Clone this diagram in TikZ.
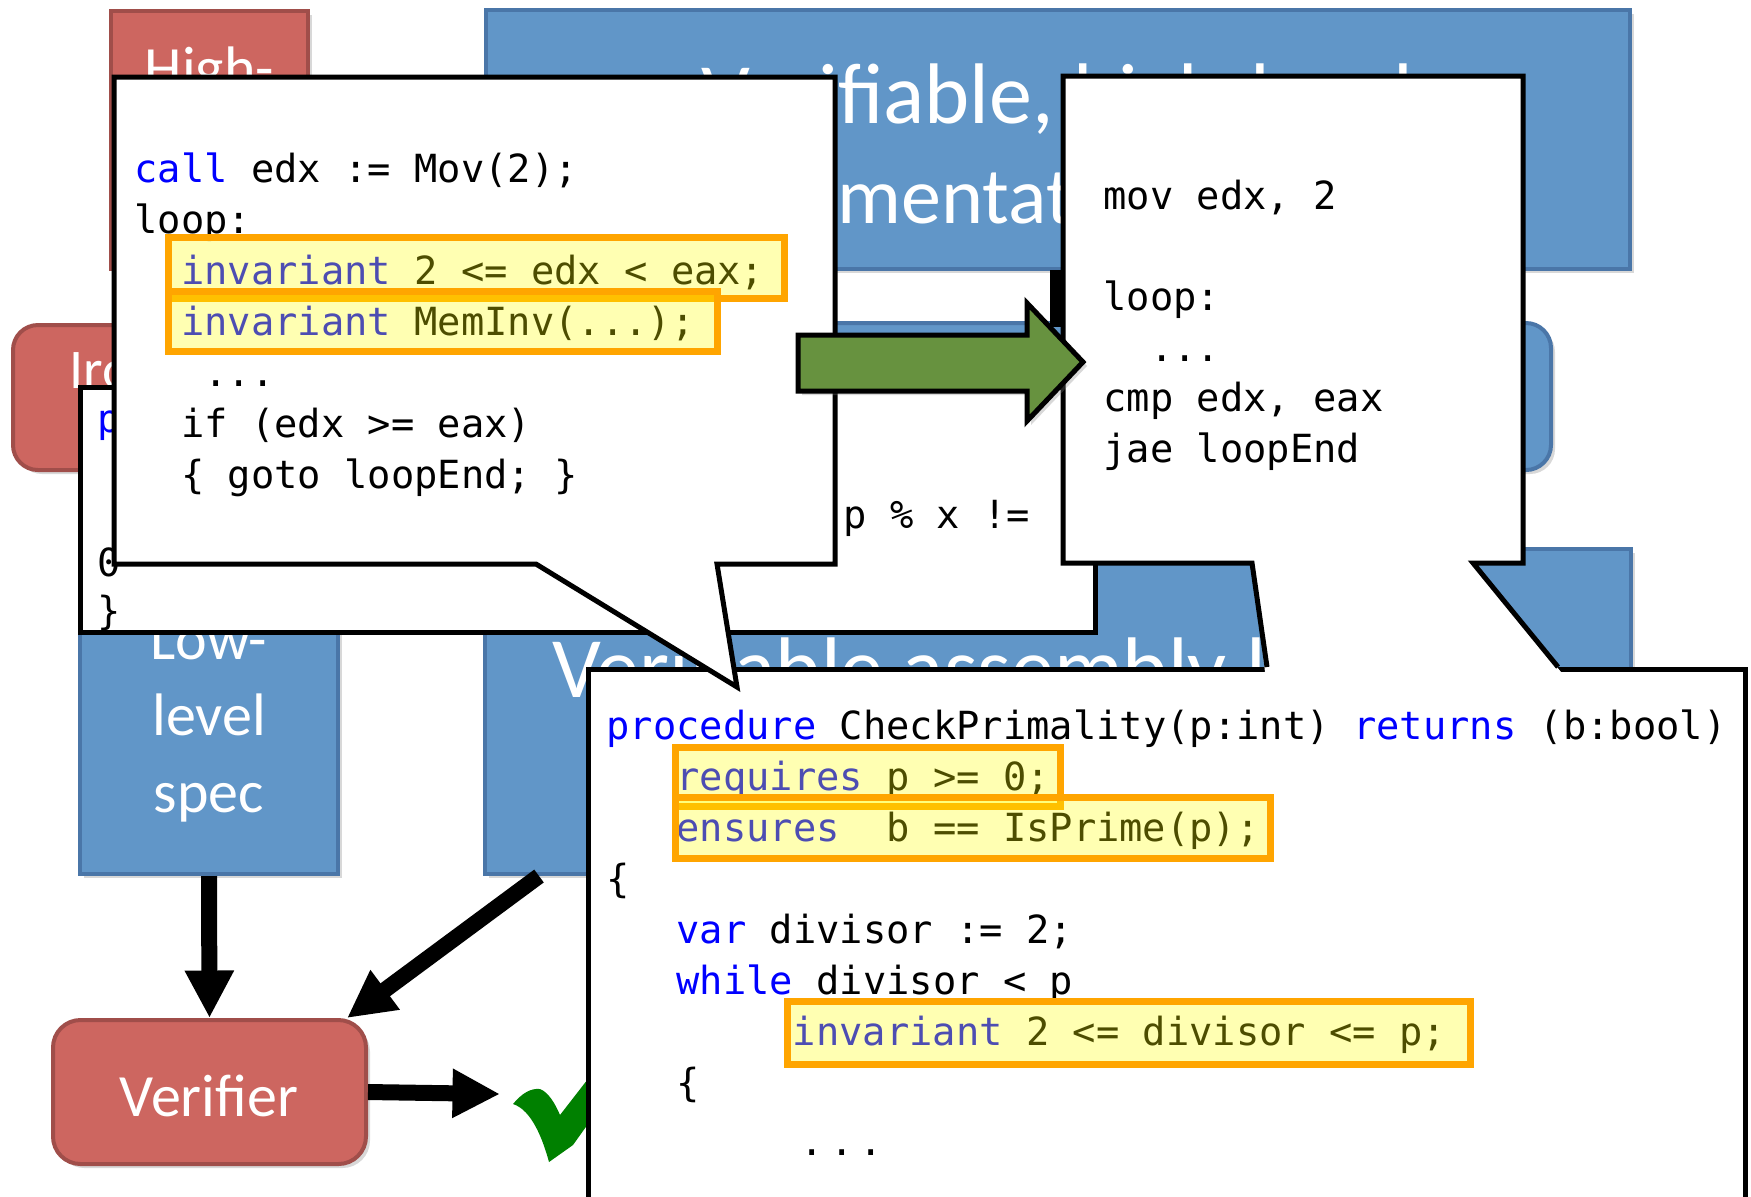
\documentclass[tikz,border=0pt]{standalone}
\usepackage{fontspec}
\setmainfont{Carlito}
\newfontfamily\codefont{DejaVu Sans Mono}
\usetikzlibrary{arrows.meta,shadows}

\definecolor{boxblue}{HTML}{6196C8}
\definecolor{boxblueedge}{HTML}{4A76A8}
\definecolor{boxred}{HTML}{CD6660}
\definecolor{boxrededge}{HTML}{A04E4A}
\definecolor{kwblue}{HTML}{0000FF}
\definecolor{hlorange}{HTML}{FFA500}
\definecolor{hlyellow}{HTML}{FFFF00}
\definecolor{arrowgreen}{HTML}{67923F}
\definecolor{checkgreen}{HTML}{008000}

\tikzset{
  softshadow/.style={drop shadow={shadow xshift=1.6pt,shadow yshift=-1.6pt,opacity=0.3}},
  blockblue/.style={draw=boxblueedge,fill=boxblue,line width=1.6pt,softshadow},
  blockred/.style={draw=boxrededge,fill=boxred,line width=1.6pt,softshadow},
  boxlabel/.style={text=white,anchor=base,inner sep=0pt,font=\fontsize{24pt}{28pt}\selectfont},
  bigtitle/.style={text=white,anchor=base,inner sep=0pt,font=\fontsize{34.4pt}{40pt}\selectfont},
  panel/.style={draw=black,fill=white,line width=2pt,line join=miter},
  code/.style={anchor=base west,inner sep=0pt,font=\codefont\fontsize{15.5pt}{20pt}\selectfont\frenchspacing},
  hilite/.style={draw=hlorange,fill=hlyellow,fill opacity=0.3,line width=2.8pt},
  flow/.style={line width=6.4pt,-{Triangle[length=19pt,width=18.4pt]}},
}

% a box node given by its corners in pixel units
\newcommand\pxbox[6]{\node[#2,inner sep=0pt,minimum width={((#5)-(#3))*0.4pt},minimum height={((#6)-(#4))*0.4pt}] (#1) at ({((#3)+(#5))/2},{((#4)+(#6))/2}) {};}
\newcommand\kw[1]{\textcolor{kwblue}{#1}}
\newcommand\cl[4]{\node[code] (#1) at (#2,#3) {#4};}

\begin{document}
\begin{tikzpicture}[x=0.4pt,y=-0.4pt]
\useasboundingbox (0,0) rectangle (1751,1196);
\clip (0,0) rectangle (1751,1196);
\fill[white] (0,0) rectangle (1751,1196);

% ---- flow blocks ----
\pxbox{hispec}{blockred}{111}{11}{308}{269}
\node[boxlabel] (hi1) at (209.5,88) {High-};
\node[boxlabel] (hi2) at (209.5,164) {level};
\node[boxlabel] (hi3) at (209.5,240) {spec};

\pxbox{hiimpl}{blockblue}{486}{10}{1630}{269}
\node[bigtitle] (ti1) at (1057,123) {Verifiable, high-level};
\node[bigtitle,anchor=base west,font=\fontsize{32pt}{38pt}\selectfont] (ti2) at (655,223) {implementation};

\pxbox{compiler}{blockred,rounded corners=10pt}{13}{325}{420}{470}
\node[boxlabel,anchor=base west,font=\fontsize{22.4pt}{26pt}\selectfont] (cc) at (69,388) {Ironclad};
\pxbox{backend}{blockblue,rounded corners=10pt}{700}{323}{1551}{470}

\pxbox{lospec}{blockblue}{80}{565}{338}{874}
\node[boxlabel] (lo1) at (209,659) {Low-};
\node[boxlabel] (lo2) at (209,735) {level};
\node[boxlabel] (lo3) at (209,812) {spec};

\pxbox{asmbox}{blockblue}{485}{549}{1631}{874}
\node[bigtitle] (as1) at (1057,697) {Verifiable assembly language};

\pxbox{verifier}{blockred,rounded corners=11pt}{53}{1020}{366}{1164}
\node[boxlabel] (vl) at (209,1116) {Verifier};

\coordinate (checkpt) at (500,1094);
\draw[flow] (lospec.south) -- (verifier.north);
\draw[flow] ([xshift=22.4pt]asmbox.south west) -- ([xshift=-8.4pt]verifier.north east);
\draw[flow] (verifier.east) -- (checkpt);

\fill[checkgreen] (513,1104) .. controls (522,1093) and (531,1088) .. (540,1089)
  .. controls (548,1092) and (555,1103) .. (560,1115) -- (598,1066) -- (598,1110)
  -- (573,1145) -- (549,1162) .. controls (543,1140) and (532,1110) .. (513,1104) -- cycle;

\fill[black] (1050,270) rectangle (1061,327);

% ---- high-level source panel ----
\path[panel] (80,387) rectangle (1095,632);
\cl{da}{97}{432}{\kw{p}}
\cl{db}{843}{528}{p \% x !=}
\cl{dc}{97}{576}{0}
\cl{dd}{97}{624}{\}}

% ---- procedure panel ----
\path[panel] (588,669) rectangle (1745,1260);
\cl{ba}{606}{739}{\kw{procedure} CheckPrimality(p:int) \kw{returns} (b:bool)}
\cl{bb}{675.9}{790}{\kw{requires} p >= 0;}
\cl{bc}{675.9}{841}{\kw{ensures}~~b == IsPrime(p);}
\cl{bd}{606}{892}{\{}
\cl{be}{675.9}{943}{\kw{var} divisor := 2;}
\cl{bf}{675.9}{994}{\kw{while} divisor < p}
\cl{bg}{792.4}{1045}{\kw{invariant} 2 <= divisor <= p;}
\cl{bh}{675.9}{1096}{\{}
\cl{bi}{800}{1155}{.\kern2.5pt.\kern2.5pt.}
\draw[hilite] (675.5,747.5) rectangle (1060.5,806.5);
\draw[hilite] (675.5,797.5) rectangle (1270.5,858.5);
\draw[hilite] (787.5,1001.5) rectangle (1470.5,1064.5);

% ---- assembly callout ----
\fill[white] (1063,76) -- (1523,76) -- (1523,563) -- (1473,563) -- (1561,672)
  -- (1265,672) -- (1252,563) -- (1063,563) -- cycle;
\draw[black,line width=2pt,line join=miter] (1267,667) -- (1252,563) -- (1063,563)
  -- (1063,76) -- (1523,76) -- (1523,563) -- (1473,563) -- (1558,667);
\cl{aa}{1103}{209}{mov edx, 2}
\cl{ab}{1103}{310}{loop:}
\cl{ac}{1149.6}{361}{...}
\cl{ad}{1103}{411}{cmp edx, eax}
\cl{ae}{1103}{462}{jae loopEnd}

% ---- intermediate-code callout ----
\path[panel] (114,77) -- (835,77) -- (835,564) -- (717,564) -- (737,687)
  -- (536,564) -- (114,564) -- cycle;
\cl{ca}{134}{182}{\kw{call} edx := Mov(2);}
\cl{cb}{134}{233}{loop:}
\cl{cc}{180.6}{284}{\kw{invariant} 2 <= edx < eax;}
\cl{cd}{180.6}{335}{\kw{invariant} MemInv(...);}
\cl{ce}{203.9}{386}{...}
\cl{cf}{180.6}{437}{if (edx >= eax)}
\cl{cg}{180.6}{488}{\{ goto loopEnd; \}}
\draw[hilite] (168.5,237.5) rectangle (784.5,298.5);
\draw[hilite] (168.5,291.5) rectangle (717.5,351.5);

% ---- translation arrow ----
\draw[fill=arrowgreen,line width=2pt,line join=miter,softshadow]
  (798,335) -- (1027,335) -- (1027,303) -- (1083,362) -- (1027,421)
  -- (1027,391) -- (798,391) -- cycle;
\end{tikzpicture}
\end{document}
